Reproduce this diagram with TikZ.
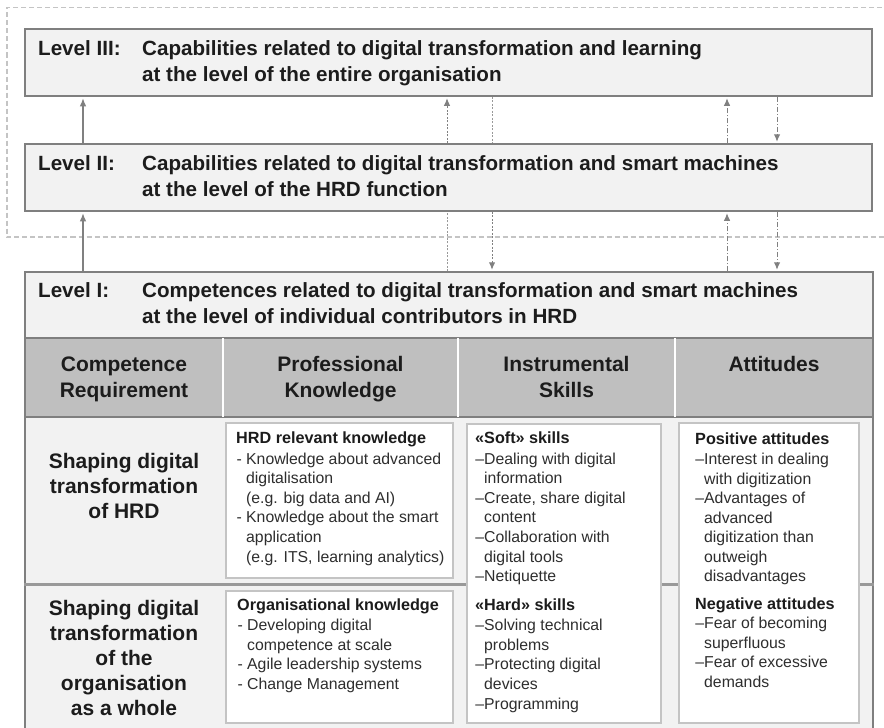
\documentclass[tikz,border=0pt]{standalone}
\usepackage{fontspec}
\setmainfont{Liberation Sans}
\usetikzlibrary{arrows.meta}
\definecolor{boxfill}{HTML}{F2F2F2}
\definecolor{edgegray}{HTML}{7F7F7F}
\definecolor{headfill}{HTML}{BFBFBF}
\definecolor{framegray}{HTML}{C4C4C4}
\definecolor{arrowgray}{HTML}{808080}
\definecolor{dotgray}{HTML}{999999}
\definecolor{sepgray}{HTML}{999999}
\definecolor{wbgray}{HTML}{C4C4C4}
\definecolor{txt}{HTML}{1C1C1C}
\definecolor{bodytxt}{HTML}{2E2E2E}
\tikzset{
  levelbox/.style={draw=edgegray, line width=1.5pt, fill=boxfill, inner sep=0pt},
  whitebox/.style={draw=wbgray, line width=1.2pt, fill=white, inner sep=0pt},
  lvl/.style={font=\fontsize{20.6}{24}\selectfont\bfseries, text=txt, inner sep=0pt, anchor=base west},
  hdtext/.style={font=\fontsize{21}{25}\selectfont\bfseries, text=txt, inner sep=0pt, anchor=base},
  lctext/.style={font=\fontsize{21}{25}\selectfont\bfseries, text=txt, inner sep=0pt, anchor=base},
  bodytext/.style={font=\fontsize{15.8}{19}\selectfont, text=bodytxt, inner sep=0pt, anchor=base west},
  bodyhead/.style={font=\fontsize{16.2}{19}\selectfont\bfseries, text=txt, inner sep=0pt, anchor=base west},
  solidarr/.style={draw=arrowgray, line width=1.3pt, -{Latex[length=8pt,width=6.5pt]}, shorten >=1.5pt},
  dotarr/.style={draw=dotgray, line width=1pt, dash pattern=on 2pt off 1.5pt},
  dasharr/.style={draw=dotgray, line width=1pt, dash pattern=on 5pt off 2pt on 1pt off 2pt},
  tipped/.style={-{Latex[length=7.5pt,width=6.5pt]}, shorten >=1.5pt, arrowgray}
}
\begin{document}
\begin{tikzpicture}[x=1pt,y=-1pt]
\path[use as bounding box, fill=white] (0,0) rectangle (884,728);

% dashed outer frame (open to the right)
\draw[framegray, line width=1.2pt, dash pattern=on 5pt off 3pt] (890,7.5) -- (7,7.5) -- (7,237) -- (890,237);

% arrow x positions
\coordinate (a1) at (83,0);
\coordinate (a2) at (447,0);
\coordinate (a3) at (492,0);
\coordinate (a4) at (727,0);
\coordinate (a5) at (777,0);
\coordinate (cs1) at (223,0);
\coordinate (cs2) at (458,0);
\coordinate (cs3) at (675,0);
\coordinate (rowsep) at (0,584);

% level boxes
\node[levelbox, minimum width=847pt, minimum height=67pt] (L3) at (448.5,62.5) {};
\node[levelbox, minimum width=847pt, minimum height=67pt] (L2) at (448.5,177.5) {};

% table body and header
\node[draw=edgegray, line width=1.5pt, fill=boxfill, inner sep=0pt, minimum width=848pt, minimum height=320pt] (bodybg) at (449,577) {};
\node[draw=edgegray, line width=1.5pt, fill=headfill, inner sep=0pt, minimum width=848pt, minimum height=79pt] (hdr) at (449,377.5) {};
\node[levelbox, minimum width=848pt, minimum height=66pt] (L1) at (449,305) {};
\foreach \c in {cs1,cs2,cs3}
  \draw[white, line width=2.5pt, shorten <=1pt, shorten >=1pt] (hdr.north -| \c) -- (hdr.south -| \c);
\draw[sepgray, line width=3pt] (bodybg.west |- rowsep) -- (bodybg.east |- rowsep);

% white content boxes
\node[whitebox, minimum width=227pt, minimum height=155pt] (PK1) at (339.5,500.5) {};
\node[whitebox, minimum width=227pt, minimum height=132pt] (PK2) at (339.5,657) {};
\node[whitebox, minimum width=194pt, minimum height=299pt] (IS) at (564,573.5) {};
\node[whitebox, minimum width=180pt, minimum height=300pt] (AT) at (769,573) {};

% connectors
\draw[solidarr] (L2.north -| a1) -- (L3.south -| a1);
\draw[solidarr] (L1.north -| a1) -- (L2.south -| a1);
\draw[dotarr] (L1.north -| a2) -- (L2.south -| a2);
\draw[dotarr, tipped] (L2.north -| a2) -- (L3.south -| a2);
\draw[dotarr] (L3.south -| a3) -- (L2.north -| a3);
\draw[dotarr, tipped] (L2.south -| a3) -- (L1.north -| a3);
\draw[dasharr, tipped] (L2.north -| a4) -- (L3.south -| a4);
\draw[dasharr, tipped] (L1.north -| a4) -- (L2.south -| a4);
\draw[dasharr, tipped] (L3.south -| a5) -- (L2.north -| a5);
\draw[dasharr, tipped] (L2.south -| a5) -- (L1.north -| a5);

% level texts
\node[lvl] (t3a) at (38,55.5) {Level III:};
\node[lvl] (t3b) at (142,55.5) {Capabilities related to digital transformation and learning};
\node[lvl] (t3c) at (142,81) {at the level of the entire organisation};
\node[lvl] (t2a) at (38,170.5) {Level II:};
\node[lvl] (t2b) at (142,170.5) {Capabilities related to digital transformation and smart machines};
\node[lvl] (t2c) at (142,196) {at the level of the HRD function};
\node[lvl] (t1a) at (38,297.5) {Level I:};
\node[lvl] (t1b) at (142,297.5) {Competences related to digital transformation and smart machines};
\node[lvl] (t1c) at (142,323) {at the level of individual contributors in HRD};

% header texts
\node[hdtext] (h1a) at (124,371.7) {Competence};
\node[hdtext] (h1b) at (124,397.7) {Requirement};
\node[hdtext] (h2a) at (340.5,371.7) {Professional};
\node[hdtext] (h2b) at (340.5,397.7) {Knowledge};
\node[hdtext] (h3a) at (566.5,371.7) {Instrumental};
\node[hdtext] (h3b) at (566.5,397.7) {Skills};
\node[hdtext] (h4a) at (774,371.7) {Attitudes};

% left column
\foreach \t [count=\i from 0] in {Shaping digital, transformation, of HRD}
  \node[lctext] (lca\i) at (124,{468+25*\i}) {\t};
\foreach \t [count=\i from 0] in {Shaping digital, transformation, of the, organisation, as a whole}
  \node[lctext] (lcb\i) at (124,{615.7+25*\i}) {\t};

% professional knowledge
\node[bodyhead] (pkh1) at (236,443.5) {HRD relevant knowledge};
\foreach \t [count=\i from 0] in {\llap{- }Knowledge about advanced, digitalisation, (e.g. big data and AI), \llap{- }Knowledge about the smart, application, {(e.g. ITS, learning analytics)}}
  \node[bodytext] (pka\i) at (246,{464+19.6*\i}) {\t};
\node[bodyhead] (pkh2) at (237,610) {Organisational knowledge};
\foreach \t [count=\i from 0] in {\llap{- }Developing digital, competence at scale, \llap{- }Agile leadership systems, \llap{- }Change Management}
  \node[bodytext] (pkb\i) at (247,{630.7+19.6*\i}) {\t};

% instrumental skills
\node[bodyhead] (ish1) at (475,443.5) {«Soft» skills};
\foreach \t [count=\i from 0] in {\llap{–}Dealing with digital, information, {\llap{–}Create, share digital}, content, \llap{–}Collaboration with, digital tools, \llap{–}Netiquette}
  \node[bodytext] (isa\i) at (484,{464+19.6*\i}) {\t};
\node[bodyhead] (ish2) at (475,610) {«Hard» skills};
\foreach \t [count=\i from 0] in {\llap{–}Solving technical, problems, \llap{–}Protecting digital, devices, \llap{–}Programming}
  \node[bodytext] (isb\i) at (484,{630.6+19.6*\i}) {\t};

% attitudes
\node[bodyhead] (ath1) at (695,444.5) {Positive attitudes};
\foreach \t [count=\i from 0] in {\llap{–}Interest in dealing, with digitization, \llap{–}Advantages of, advanced, digitization than, outweigh, disadvantages}
  \node[bodytext] (ata\i) at (704,{464.7+19.5*\i}) {\t};
\node[bodyhead] (ath2) at (695,609) {Negative attitudes};
\foreach \t [count=\i from 0] in {\llap{–}Fear of becoming, superfluous, \llap{–}Fear of excessive, demands}
  \node[bodytext] (atb\i) at (704,{628.5+19.5*\i}) {\t};
\end{tikzpicture}
\end{document}
